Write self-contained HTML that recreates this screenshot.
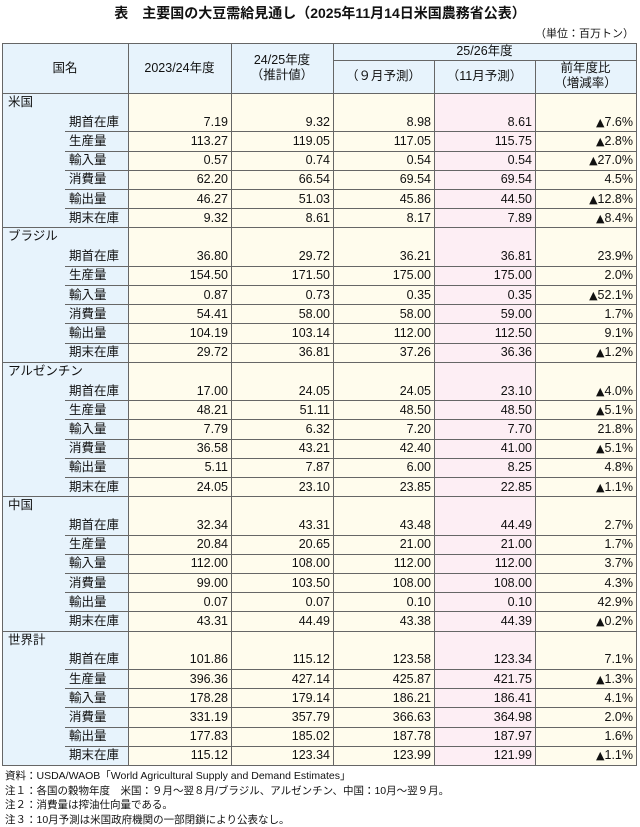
<!DOCTYPE html>
<html><head><meta charset="utf-8"><style>
body{margin:0;width:640px;height:827px;background:#fff;font-family:"Liberation Sans","Noto Sans CJK JP",sans-serif;color:#111;position:relative;overflow:hidden}
.t{position:absolute;left:0;width:640px;text-align:center;top:3px;font-size:14px;font-weight:bold}
.u{position:absolute;right:6px;top:25px;font-size:11px}
.b{position:absolute;box-sizing:border-box}
.x{position:absolute;font-size:12.5px;white-space:nowrap;line-height:19px}
.tri{font-family:"DejaVu Sans",sans-serif;font-size:11px}
.hl{position:absolute;height:1px;background:#666}
.vl{position:absolute;width:1px;background:#666}
.hc{position:absolute;text-align:center;font-size:12.5px;line-height:15px}
.notes{position:absolute;left:5px;top:769px;font-size:10.5px;line-height:14.6px}
</style></head><body>
<div class="t">表　主要国の大豆需給見通し（2025年11月14日米国農務省公表）</div>
<div class="u">（単位：百万トン）</div>
<div id="tb"></div>
<div class="notes">資料：USDA/WAOB「World Agricultural Supply and Demand Estimates」<br>注１：各国の穀物年度　米国：９月～翌８月/ブラジル、アルゼンチン、中国：10月～翌９月。<br>注２：消費量は搾油仕向量である。<br>注３：10月予測は米国政府機関の一部閉鎖により公表なし。</div>
<script>
var X=[2,65,128,231,333,434,535,636],T=43,H=93,RH=19.2,B=H+35*RH;
var items=["期首在庫","生産量","輸入量","消費量","輸出量","期末在庫"];
var G=[["米国",[["7.19","9.32","8.98","8.61","▲7.6%"],["113.27","119.05","117.05","115.75","▲2.8%"],["0.57","0.74","0.54","0.54","▲27.0%"],["62.20","66.54","69.54","69.54","4.5%"],["46.27","51.03","45.86","44.50","▲12.8%"],["9.32","8.61","8.17","7.89","▲8.4%"]]],
["ブラジル",[["36.80","29.72","36.21","36.81","23.9%"],["154.50","171.50","175.00","175.00","2.0%"],["0.87","0.73","0.35","0.35","▲52.1%"],["54.41","58.00","58.00","59.00","1.7%"],["104.19","103.14","112.00","112.50","9.1%"],["29.72","36.81","37.26","36.36","▲1.2%"]]],
["アルゼンチン",[["17.00","24.05","24.05","23.10","▲4.0%"],["48.21","51.11","48.50","48.50","▲5.1%"],["7.79","6.32","7.20","7.70","21.8%"],["36.58","43.21","42.40","41.00","▲5.1%"],["5.11","7.87","6.00","8.25","4.8%"],["24.05","23.10","23.85","22.85","▲1.1%"]]],
["中国",[["32.34","43.31","43.48","44.49","2.7%"],["20.84","20.65","21.00","21.00","1.7%"],["112.00","108.00","112.00","112.00","3.7%"],["99.00","103.50","108.00","108.00","4.3%"],["0.07","0.07","0.10","0.10","42.9%"],["43.31","44.49","43.38","44.39","▲0.2%"]]],
["世界計",[["101.86","115.12","123.58","123.34","7.1%"],["396.36","427.14","425.87","421.75","▲1.3%"],["178.28","179.14","186.21","186.41","4.1%"],["331.19","357.79","366.63","364.98","2.0%"],["177.83","185.02","187.78","187.97","1.6%"],["115.12","123.34","123.99","121.99","▲1.1%"]]]];
var h="";
function bx(l,t,w,hh,c){h+='<div class="b" style="left:'+l+'px;top:'+t+'px;width:'+w+'px;height:'+hh+'px;background:'+c+'"></div>';}
function hl(l,t,w){h+='<div class="hl" style="left:'+l+'px;top:'+t+'px;width:'+w+'px"></div>';}
function vl(l,t,hh){h+='<div class="vl" style="left:'+l+'px;top:'+t+'px;height:'+hh+'px"></div>';}
function hc(l,w,cy,txt,n){h+='<div class="hc" style="left:'+l+'px;width:'+w+'px;top:'+(cy-n*7.5)+'px">'+txt+'</div>';}
bx(X[0],T,X[7]-X[0],H-T,"#e7f3fc");
bx(X[0],H,X[2]-X[0],B-H,"#e7f3fc");
bx(X[2],H,X[5]-X[2],B-H,"#fffced");
bx(X[5],H,X[6]-X[5],B-H,"#fdeef4");
bx(X[6],H,X[7]-X[6],B-H,"#fffced");
hc(X[0],X[2]-X[0],68,"国名",1);
hc(X[2],X[3]-X[2],68,"2023/24年度",1);
hc(X[3],X[4]-X[3],68,"24/25年度<br>（推計値）",2);
hc(X[4],X[7]-X[4],51,"25/26年度",1);
hc(X[4],X[5]-X[4],76,"（９月予測）",1);
hc(X[5],X[6]-X[5],76,"（11月予測）",1);
hc(X[6],X[7]-X[6],76,"前年度比<br>（増減率）",2);
hl(X[0],T,X[7]-X[0]);hl(X[4],60,X[7]-X[4]);hl(X[0],H,X[7]-X[0]+1);
[0,2,3,4].forEach(function(i){vl(X[i],T,B-T);});
[5,6].forEach(function(i){vl(X[i],60,B-60);});
vl(X[7],T,B-T+1);
G.forEach(function(g,gi){
 var y0=H+gi*7*RH;
 hl(X[0],Math.round(y0),X[7]-X[0]);
 h+='<div class="x" style="left:8px;top:'+(y0)+'px">'+g[0]+'</div>';
 g[1].forEach(function(r,i){
  var y=y0+(i+1)*RH;
  if(i>0)hl(X[1],Math.round(y),X[7]-X[1]);
  h+='<div class="x" style="left:69px;top:'+(y+0.5)+'px">'+items[i]+'</div>';
  r.forEach(function(v,k){v=v.replace("▲",'<span class="tri">▲</span>');h+='<div class="x" style="right:'+(640-X[k+3]+3)+'px;top:'+(y+0.5)+'px">'+v+'</div>';});
 });
});
hl(X[0],Math.round(B),X[7]-X[0]+1);
document.getElementById("tb").innerHTML=h;
</script>
</body></html>
